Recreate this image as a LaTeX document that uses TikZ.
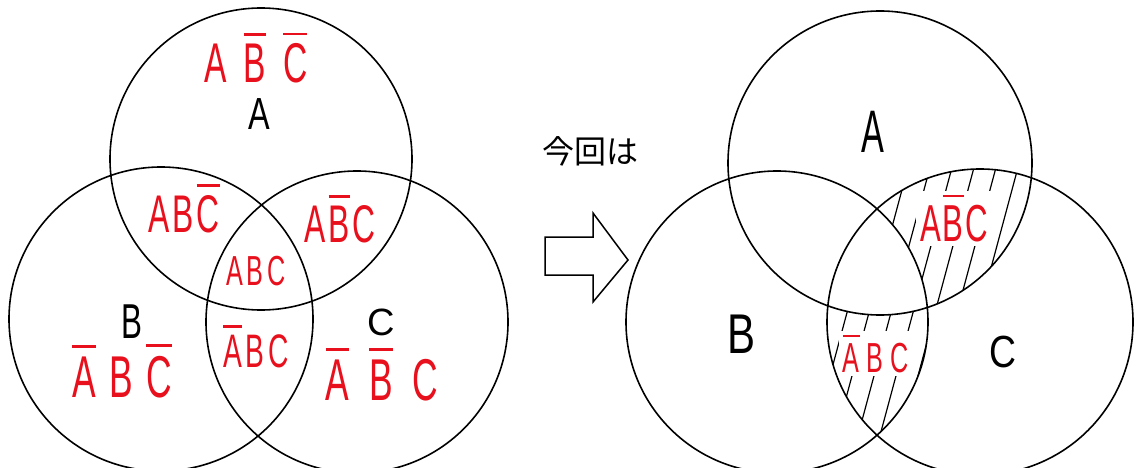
\documentclass[tikz,border=0pt]{standalone}
\usepackage{fontspec}
\setmainfont{Liberation Sans}
\newfontfamily\jpfont{Noto Sans CJK JP}
\usepackage{graphicx}
\definecolor{inkred}{RGB}{232,16,28}
\newcommand{\ob}[1]{\leavevmode\vbox{\hrule height .05em\kern .15em\hbox{#1}}}
\newcommand{\hw}[3]{\scalebox{#2}[1]{\fontsize{#1}{#1}\selectfont #3}}
\begin{document}
\begin{tikzpicture}[x=1pt,y=-1pt,
  ring/.style={line width=1.6pt},
  lab/.style={anchor=base,inner sep=0pt,outer sep=0pt},
  redlab/.style={lab,text=inkred},
  hatchlab/.style={redlab,fill=white,inner sep=4pt},
  hatch/.style={line width=1.2pt}]
\useasboundingbox (0,0) rectangle (1138,468);
% ---------- left diagram ----------
\coordinate (LA) at (261,159);
\coordinate (LB) at (161,319);
\coordinate (LC) at (357,322);
\node[redlab] (l1) at (256,83) {\hw{56}{0.6}{A\hspace{28pt}\ob{B}\hspace{28pt}\ob{C}}};
\node[redlab] (l2) at (184,232) {\hw{53}{0.6}{A\hspace{5pt}B\hspace{5pt}\ob{C}}};
\node[redlab] (l3) at (340,242) {\hw{53}{0.6}{A\hspace{4pt}\ob{B}\hspace{4pt}C}};
\node[redlab] (l4) at (256,285) {\hw{42}{0.6}{A\hspace{6pt}B\hspace{6pt}C}};
\node[redlab] (l5) at (256,367) {\hw{47}{0.6}{\ob{A}\hspace{6pt}B\hspace{6pt}C}};
\node[redlab] (l6) at (122,397) {\hw{59}{0.6}{\ob{A}\hspace{22pt}B\hspace{22pt}\ob{C}}};
\node[redlab] (l7) at (382,400) {\hw{59}{0.6}{\ob{A}\hspace{33pt}\ob{B}\hspace{33pt}C}};
\node[lab] (lAl) at (259,130) {\hw{45}{0.72}{A}};
\node[lab] (lBl) at (132,338) {\hw{49}{0.64}{B}};
\node[lab] (lCl) at (381,335) {\hw{38}{1.0}{C}};
\draw[ring] (LA) circle[radius=151pt];
\draw[ring] (LB) circle[radius=152pt];
\draw[ring] (LC) circle[radius=151pt];
% ---------- middle ----------
\node[anchor=center,inner sep=0pt] (konkai) at (590,151) {\jpfont\fontsize{32}{32}\selectfont 今回は};
\draw[line width=1.5pt,line join=miter] (545,237) -- (593,237) -- (593,213) -- (628,260) -- (593,302) -- (593,275) -- (545,275) -- cycle;
% ---------- right diagram ----------
\coordinate (RA) at (880,163);
\coordinate (RB) at (777,322);
\coordinate (RC) at (980,322);
\begin{scope}
  \clip (RA) circle[radius=152pt];
  \clip (RC) circle[radius=153pt];
  \foreach \x in {560,582,...,1100} \draw[hatch] (\x,480) -- ++(129,-480);
\end{scope}
\begin{scope}
  \clip (RB) circle[radius=151pt];
  \clip (RC) circle[radius=153pt];
  \foreach \x in {560,582,...,1100} \draw[hatch] (\x,480) -- ++(129,-480);
\end{scope}
\begin{scope}
  \clip (RA) circle[radius=152pt];
  \clip (RB) circle[radius=151pt];
  \fill[white] (RC) circle[radius=153pt];
\end{scope}
\node[hatchlab] (r1) at (954,241) {\hw{52}{0.6}{A\hspace{3pt}\ob{B}\hspace{3pt}C}};
\node[hatchlab] (r2) at (876,372) {\hw{42}{0.6}{\ob{A}\hspace{12pt}B\hspace{12pt}C}};
\node[lab] (rAl) at (873,153) {\hw{60}{0.57}{A}};
\node[lab] (rBl) at (741,353) {\hw{56}{0.75}{B}};
\node[lab] (rCl) at (1003,367) {\hw{45}{0.83}{C}};
\draw[ring] (RA) circle[radius=152pt];
\draw[ring] (RB) circle[radius=151pt];
\draw[ring] (RC) circle[radius=153pt];
\end{tikzpicture}
\end{document}
